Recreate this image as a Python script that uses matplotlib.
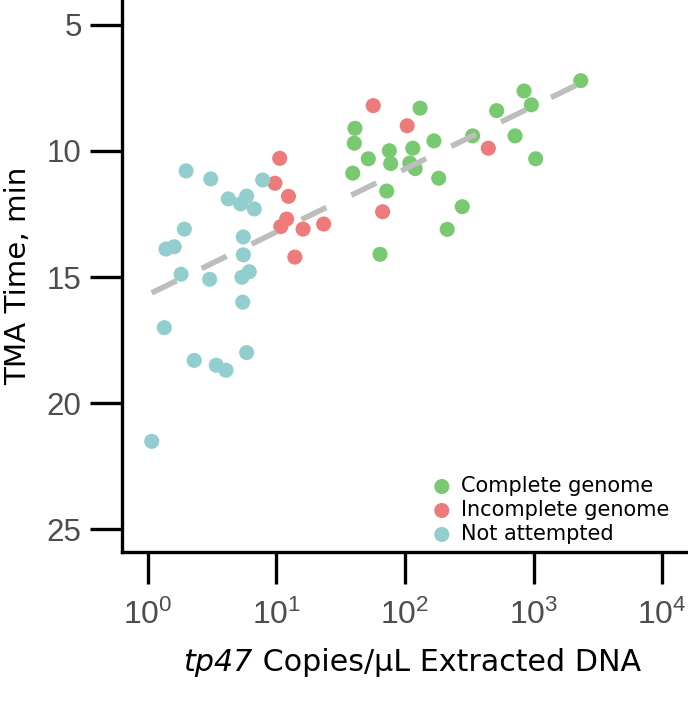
import numpy as np
import matplotlib
matplotlib.use("Agg")
import matplotlib.pyplot as plt
from matplotlib.ticker import FixedLocator, NullLocator

plt.rcParams['font.family'] = ['DejaVu Sans']
plt.rcParams['mathtext.fontset'] = 'custom'
plt.rcParams['mathtext.rm'] = 'Liberation Sans'
plt.rcParams['mathtext.it'] = 'Liberation Sans:italic'

# ---- data ----
complete_x = [2330, 844, 962, 517, 131, 40.8, 40.3, 75.5, 51.8, 77.4, 115, 168,
              336, 718, 1040, 39.2, 109, 120, 183, 72.1, 279, 213, 63.9]
complete_y = [7.21, 7.62, 8.17, 8.40, 8.30, 9.10, 9.69, 9.99, 10.31, 10.50, 9.89, 9.60,
              9.40, 9.40, 10.31, 10.88, 10.48, 10.70, 11.08, 11.59, 12.21, 13.11, 14.10]

incomplete_x = [10.6, 9.73, 12.4, 12.0, 10.8, 16.1, 23.3, 13.9, 56.6, 104, 445, 67]
incomplete_y = [10.29, 11.28, 11.80, 12.70, 13.00, 13.10, 12.90, 14.21, 8.20, 9.00, 9.89, 12.41]

notatt_x = [1.98, 3.08, 7.81, 4.22, 5.86, 5.26, 6.72, 1.92, 1.38, 1.60, 5.52, 5.52,
            1.81, 3.02, 5.39, 6.14, 5.46, 1.34, 2.29, 3.40, 4.05, 5.86, 1.07]
notatt_y = [10.79, 11.11, 11.15, 11.90, 11.79, 12.10, 12.30, 13.10, 13.89, 13.80, 13.41, 14.12,
            14.89, 15.09, 15.01, 14.79, 16.00, 17.01, 18.31, 18.50, 18.70, 18.00, 21.52]

labels = ["Complete genome", "Incomplete genome", "Not attempted"]
colors = ["#78C970", "#EE7B7C", "#93CECE"]
x_ticks = [1, 10, 100, 1000, 10000]
x_ticklabels = [r"$10^0$", r"$10^1$", r"$10^2$", r"$10^3$", r"$10^4$"]
y_ticks = [5, 10, 15, 20, 25]
y_ticklabels = ["5", "10", "15", "20", "25"]

# ---- figure ----
W, H = 688, 720
fig = plt.figure(figsize=(W/100, H/100), dpi=100)
ax = fig.add_axes([122/W, 1 - 552/H, 1 - 122/W, 552/H])

series = [(complete_x, complete_y), (incomplete_x, incomplete_y), (notatt_x, notatt_y)]
for (xs, ys), lab, col in zip(series, labels, colors):
    ax.scatter(xs, ys, s=118, color=col, edgecolors='none', label=lab, zorder=2)

# regression line (y vs log10 x) over all points
all_x = np.array(complete_x + incomplete_x + notatt_x)
all_y = np.array(complete_y + incomplete_y + notatt_y)
slope, icpt = np.polyfit(np.log10(all_x), all_y, 1)
lx = np.linspace(np.log10(all_x.min()), np.log10(all_x.max()), 100)
ax.plot(10**lx, icpt + slope*lx, color="#BDBDBD", lw=4, dashes=(5, 5),
        solid_capstyle='butt', dash_capstyle='butt', zorder=3)

ax.set_xscale('log')
ax.set_xlim(10**-0.202, 10**4.202)
ax.set_ylim(25.91, 4.01)
ax.xaxis.set_major_locator(FixedLocator(x_ticks))
ax.xaxis.set_minor_locator(NullLocator())
ax.set_xticklabels(x_ticklabels)
ax.set_yticks(y_ticks)
ax.set_yticklabels(y_ticklabels, fontfamily='Liberation Sans')

for s in ['top', 'right']:
    ax.spines[s].set_visible(False)
for s in ['left', 'bottom']:
    ax.spines[s].set_linewidth(2.4)
    ax.spines[s].set_color('black')
ax.tick_params(axis='both', which='major', length=23, width=2.4, color='black',
               labelcolor='#4D4D4D', labelsize=22.5, pad=6)
ax.tick_params(axis='x', labelsize=23, pad=11)

# y axis title
ax.set_ylabel("TMA Time, min", fontsize=21.2, color='black')
ax.yaxis.set_label_coords((32 - 122)/566, 0.5)

# x axis title: italic gene name followed by regular text
XL_FS = 21.7
t1 = fig.text(185/W, 1 - 671/H, "tp47", fontsize=XL_FS, style='italic',
              color='black', ha='left', va='baseline')
t2 = fig.text(0, 0, " Copies/μL Extracted DNA", fontsize=XL_FS, color='black',
              ha='left', va='baseline')
fig.canvas.draw()
r = fig.canvas.get_renderer()
b1 = t1.get_window_extent(r)
b2 = t2.get_window_extent(r)
total = b1.width + b2.width
x0 = 412 - total/2
t1.set_x(x0/W)
t2.set_position(((x0 + b1.width)/W, 1 - 671/H))

leg = ax.legend(loc='upper left', bbox_to_anchor=(434/W, 1 - 476/H),
                bbox_transform=fig.transFigure, frameon=False, fontsize=15,
                handlelength=0.75, handletextpad=0.55, labelspacing=0.19,
                borderpad=0, borderaxespad=0, scatterpoints=1)

fig.savefig("out.png", dpi=100)
